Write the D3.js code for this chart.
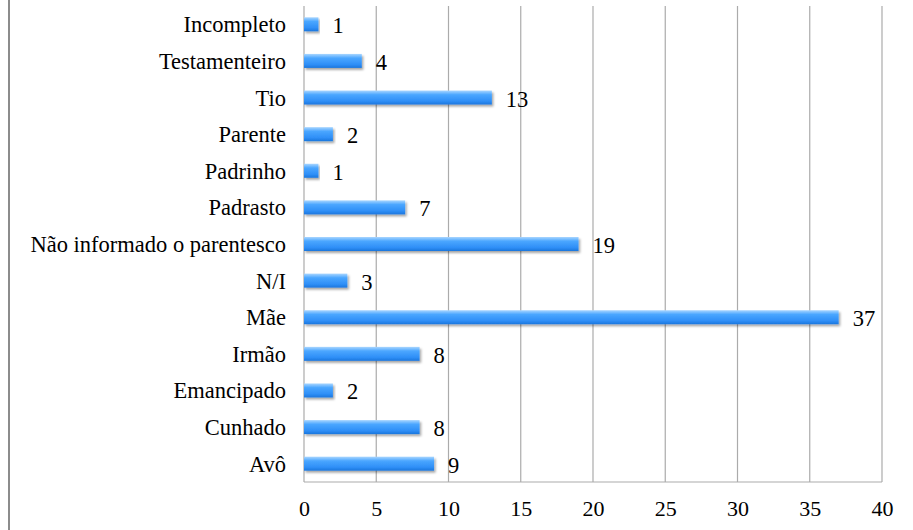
<!DOCTYPE html>
<meta charset="utf-8">
<head>
    <title>Bar chart</title>
</head>
<style>
 body { margin: 0; background: #fff; }
 svg { display: block; }
 .grid line { stroke: #ababab; stroke-width: 1.2px; }
</style>
<body>
    <div id="chart"></div>
    <script src="https://d3js.org/d3.v7.min.js"></script>
    <script>

     var categories = ["Incompleto", "Testamenteiro", "Tio", "Parente", "Padrinho",
                       "Padrasto", "Não informado o parentesco", "N/I", "Mãe",
                       "Irmão", "Emancipado", "Cunhado", "Avô"];
     var values = [1, 4, 13, 2, 1, 7, 19, 3, 37, 8, 2, 8, 9];
     var ticks = [0, 5, 10, 15, 20, 25, 30, 35, 40];

     var width = 913, height = 530;
     var plotLeft = 304, plotRight = 882, plotTop = 6, plotBottom = 482;
     var serif = "'Liberation Serif'";

     var svg = d3.select("#chart").append("svg")
                 .attr("width", width)
                 .attr("height", height);

     var defs = svg.append("defs");
     var grad = defs.append("linearGradient")
                    .attr("id", "barGrad")
                    .attr("x1", 0).attr("y1", 0)
                    .attr("x2", 0).attr("y2", 1);
     grad.append("stop").attr("offset", "0%").attr("stop-color", "#a9d6ff");
     grad.append("stop").attr("offset", "30%").attr("stop-color", "#4aa6ff");
     grad.append("stop").attr("offset", "75%").attr("stop-color", "#2f8ff7");
     grad.append("stop").attr("offset", "100%").attr("stop-color", "#1b76dd");

     var shadow = defs.append("filter").attr("id", "shadow")
                      .attr("x", "-5%").attr("y", "-30%")
                      .attr("width", "115%").attr("height", "180%");
     shadow.append("feDropShadow")
           .attr("dx", 1.5).attr("dy", 2)
           .attr("stdDeviation", 1.2)
           .attr("flood-color", "#000")
           .attr("flood-opacity", 0.35);

     // left border
     svg.append("line")
        .attr("x1", 9).attr("x2", 9)
        .attr("y1", 0).attr("y2", height)
        .attr("stroke", "#8c8c8c")
        .attr("stroke-width", 2);

     var x = d3.scaleLinear().domain([0, 40]).range([plotLeft, plotRight]);
     var y = d3.scaleBand().domain(categories).range([plotTop, plotBottom]);

     // gridlines
     svg.append("g")
        .attr("class", "grid")
        .selectAll("line")
        .data(ticks)
        .enter()
        .append("line")
        .attr("x1", function(d) { return x(d); })
        .attr("x2", function(d) { return x(d); })
        .attr("y1", plotTop)
        .attr("y2", plotBottom);

     // bottom axis line
     svg.append("line")
        .attr("x1", plotLeft).attr("x2", plotRight)
        .attr("y1", plotBottom).attr("y2", plotBottom)
        .attr("stroke", "#ababab")
        .attr("stroke-width", 1.2);

     var xAxis = svg.append("g")
                    .attr("transform", "translate(0," + plotBottom + ")")
                    .call(d3.axisBottom(x).tickValues(ticks).tickSize(0));
     xAxis.select(".domain").remove();
     xAxis.selectAll("text")
          .attr("y", 34)
          .attr("dy", null)
          .attr("fill", "#000")
          .style("font-family", serif)
          .style("font-size", "22px");

     var barH = 14;

     svg.append("g")
        .selectAll("rect")
        .data(values)
        .enter()
        .append("rect")
        .attr("x", x(0))
        .attr("y", function(d, i) { return y(categories[i]) + y.bandwidth() / 2 - barH / 2; })
        .attr("width", function(d) { return x(d) - x(0); })
        .attr("height", barH)
        .attr("fill", "url(#barGrad)")
        .attr("filter", "url(#shadow)");

     svg.append("g")
        .selectAll("text")
        .data(values)
        .enter()
        .append("text")
        .attr("x", function(d) { return x(d) + 14; })
        .attr("y", function(d, i) { return y(categories[i]) + y.bandwidth() / 2 + 9; })
        .style("font-family", serif)
        .style("font-size", "22.5px")
        .text(function(d) { return d; });

     svg.append("g")
        .selectAll("text")
        .data(categories)
        .enter()
        .append("text")
        .attr("x", plotLeft - 18)
        .attr("y", function(d) { return y(d) + y.bandwidth() / 2 + 8; })
        .attr("text-anchor", "end")
        .style("font-family", serif)
        .style("font-size", "22.5px")
        .text(function(d) { return d; });

    </script>
</body>
